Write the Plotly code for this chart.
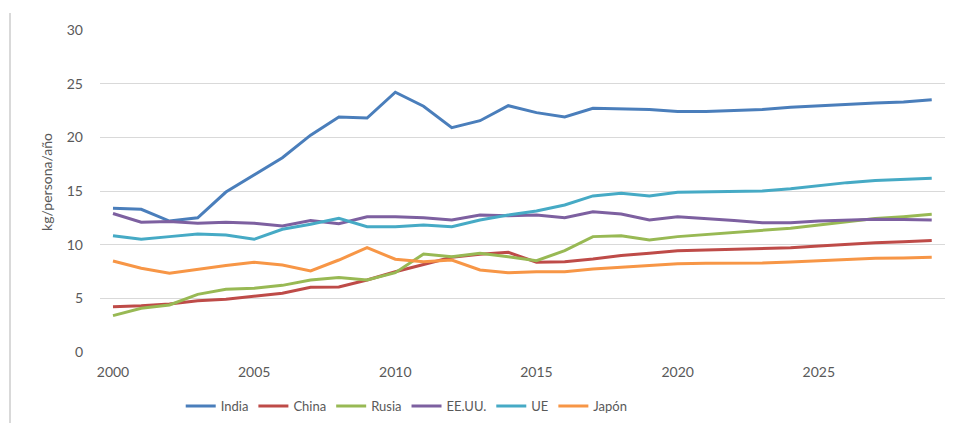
import plotly.graph_objects as go

years = list(range(2000, 2030))

india = [13.4, 13.3, 12.2, 12.5, 14.9, 16.5, 18.1, 20.2, 21.9, 21.8,
         24.2, 22.9, 20.9, 21.55, 22.95, 22.3, 21.9, 22.7, 22.65, 22.6,
         22.4, 22.4, 22.5, 22.6, 22.8, 22.95, 23.1, 23.2, 23.3, 23.5]
china = [4.22, 4.3, 4.47, 4.78, 4.91, 5.16, 5.47, 6.03, 6.05, 6.71,
         7.48, 8.15, 8.82, 9.1, 9.29, 8.36, 8.42, 8.67, 8.98, 9.2,
         9.44, 9.5, 9.57, 9.6, 9.72, 9.88, 10.07, 10.19, 10.28, 10.38]
rusia = [3.39, 4.07, 4.38, 5.37, 5.84, 5.93, 6.21, 6.71, 6.93, 6.71,
         7.39, 9.13, 8.88, 9.2, 8.88, 8.51, 9.44, 10.75, 10.84, 10.44,
         10.75, 10.93, 11.12, 11.28, 11.53, 11.84, 12.15, 12.43, 12.61, 12.83]
eeuu = [12.9, 12.1, 12.15, 12.0, 12.1, 12.0, 11.75, 12.25, 11.95, 12.6,
        12.6, 12.5, 12.3, 12.77, 12.7, 12.77, 12.5, 13.07, 12.86, 12.3,
        12.6, 12.45, 12.24, 12.05, 12.05, 12.2, 12.3, 12.36, 12.35, 12.3]
ue = [10.84, 10.5, 10.75, 11.0, 10.9, 10.5, 11.43, 11.9, 12.45, 11.68,
      11.68, 11.83, 11.68, 12.3, 12.77, 13.14, 13.7, 14.54, 14.79, 14.54,
      14.88, 14.94, 14.97, 15.0, 15.22, 15.53, 15.78, 15.97, 16.1, 16.18]
japon = [8.48, 7.8, 7.33, 7.7, 8.05, 8.36, 8.1, 7.55, 8.57, 9.72,
         8.64, 8.4, 8.57, 7.64, 7.39, 7.48, 7.48, 7.73, 7.89, 8.08,
         8.23, 8.26, 8.26, 8.29, 8.39, 8.51, 8.64, 8.73, 8.76, 8.82]

series_names = ["India", "China", "Rusia", "EE.UU.", "UE", "Japón"]
series_values = [india, china, rusia, eeuu, ue, japon]
colors = ["#4a7ebb", "#be4b48", "#98b954", "#7d60a0", "#46aac5", "#f79646"]

x_ticks = [2000, 2005, 2010, 2015, 2020, 2025]
y_ticks = [0, 5, 10, 15, 20, 25, 30]

fig = go.Figure()
for name, vals, col in zip(series_names, series_values, colors):
    fig.add_trace(go.Scatter(x=years, y=vals, name=name, mode="lines",
                             line=dict(color=col, width=3)))

font_family = "Lato, 'Open Sans', sans-serif"
fig.update_layout(
    width=957, height=423,
    margin=dict(l=100, r=12, t=30, b=71, autoexpand=False),
    paper_bgcolor="white", plot_bgcolor="white",
    font=dict(family=font_family, size=14, color="#595959"),
    showlegend=True,
    legend=dict(orientation="h", xref="container", x=0.425, xanchor="center",
                yref="container", y=0.04, yanchor="middle",
                font=dict(size=13, color="#595959"), itemwidth=30,
                tracegroupgap=0),
    xaxis=dict(range=[1999.54, 2029.47], tickvals=x_ticks,
               showgrid=False, zeroline=False, showline=False,
               ticks="", automargin=False, ticklabelstandoff=10,
               tickfont=dict(size=14, color="#595959")),
    yaxis=dict(range=[0, 30], tickvals=y_ticks, showgrid=True,
               gridcolor="#d9d9d9", gridwidth=1, zeroline=False,
               showline=False, ticks="", ticklabelstandoff=16,
               automargin=False,
               tickfont=dict(size=14, color="#595959")),
)
fig.add_annotation(text="kg/persona/año", xref="paper", yref="paper",
                   x=(47 - 100) / 845, y=0.528, textangle=-90,
                   showarrow=False, xanchor="center", yanchor="middle",
                   font=dict(size=14, color="#595959"))
fig.add_shape(type="line", xref="paper", yref="paper",
              x0=-0.1065, x1=-0.1065, y0=1.053, y1=-0.23,
              line=dict(color="#d9d9d9", width=2))

fig.write_html("out.html", config={"displayModeBar": False},
               post_script="document.body.style.margin='0';document.body.style.overflow='hidden';")
